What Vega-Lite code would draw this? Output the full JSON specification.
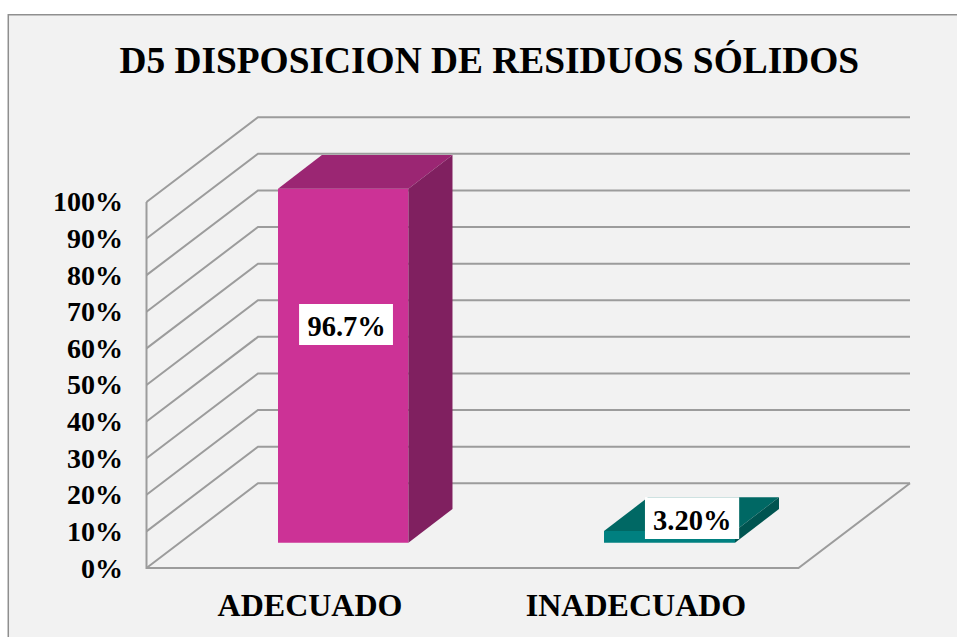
{"$schema":"https://vega.github.io/schema/vega-lite/v6.json","width":763.5,"height":451,"autosize":{"type":"none"},"padding":{"left":146.5,"top":117,"right":47,"bottom":69},"background":"#ffffff","view":{"stroke":null},"title":{"text":"D5 DISPOSICION DE RESIDUOS SÓLIDOS","font":"Liberation Serif","fontSize":37.4,"fontWeight":"bold","color":"#000000","anchor":"middle","dx":-39,"offset":-66,"zindex":1,"limit":900},"resolve":{"axis":{"x":"independent","y":"independent"}},"layer":[{"mark":{"type":"rect","fill":"#f2f2f2","stroke":"#8f8f8f","strokeWidth":1.5,"clip":false},"data":{"values":[{"panel":"chart area"}]},"encoding":{"x":{"datum":-21.2,"type":"quantitative","scale":{"domain":[0,117.1],"nice":false,"zero":false},"axis":{"values":[25,75],"labelExpr":"datum.value==25?'ADECUADO':'INADECUADO'","title":null,"grid":false,"domain":false,"ticks":false,"labelFont":"Liberation Serif","labelFontSize":32,"labelFontWeight":"bold","labelColor":"#000000","labelPadding":22,"labelAngle":0,"labelLimit":400,"zindex":1}},"x2":{"datum":124.8},"y":{"datum":151.1,"type":"quantitative","scale":{"domain":[0,123.2],"nice":false,"zero":false},"axis":{"values":[0,10,20,30,40,50,60,70,80,90,100],"labelExpr":"datum.value+'%'","title":null,"grid":false,"domain":false,"ticks":false,"labelFont":"Liberation Serif","labelFontSize":28,"labelFontWeight":"bold","labelColor":"#000000","labelPadding":24,"labelOffset":1,"zindex":1}},"y2":{"datum":-19.7}}},{"mark":{"type":"line","stroke":"#9c9c9c","strokeWidth":2,"clip":false},"data":{"values":[{"level":0,"u":0,"pct":0},{"level":0,"u":17.1,"pct":23.14},{"level":0,"u":117.1,"pct":23.14},{"level":10,"u":0,"pct":10},{"level":10,"u":17.1,"pct":33.14},{"level":10,"u":117.1,"pct":33.14},{"level":20,"u":0,"pct":20},{"level":20,"u":17.1,"pct":43.14},{"level":20,"u":117.1,"pct":43.14},{"level":30,"u":0,"pct":30},{"level":30,"u":17.1,"pct":53.14},{"level":30,"u":117.1,"pct":53.14},{"level":40,"u":0,"pct":40},{"level":40,"u":17.1,"pct":63.14},{"level":40,"u":117.1,"pct":63.14},{"level":50,"u":0,"pct":50},{"level":50,"u":17.1,"pct":73.14},{"level":50,"u":117.1,"pct":73.14},{"level":60,"u":0,"pct":60},{"level":60,"u":17.1,"pct":83.14},{"level":60,"u":117.1,"pct":83.14},{"level":70,"u":0,"pct":70},{"level":70,"u":17.1,"pct":93.14},{"level":70,"u":117.1,"pct":93.14},{"level":80,"u":0,"pct":80},{"level":80,"u":17.1,"pct":103.14},{"level":80,"u":117.1,"pct":103.14},{"level":90,"u":0,"pct":90},{"level":90,"u":17.1,"pct":113.14},{"level":90,"u":117.1,"pct":113.14},{"level":100,"u":0,"pct":100},{"level":100,"u":17.1,"pct":123.14},{"level":100,"u":117.1,"pct":123.14},{"level":-1,"u":0,"pct":100},{"level":-1,"u":0,"pct":0},{"level":-1,"u":100,"pct":0},{"level":-1,"u":117.1,"pct":23.14}]},"encoding":{"x":{"field":"u","type":"quantitative","axis":null},"y":{"field":"pct","type":"quantitative","axis":null},"detail":{"field":"level"},"order":{"value":0}}},{"mark":{"type":"rect","clip":false},"data":{"values":[{"category":"ADECUADO","u0":20.17,"u1":40.17,"base":6.9,"top":103.6},{"category":"INADECUADO","u0":70.17,"u1":90.26,"base":6.9,"top":10.1}]},"encoding":{"x":{"field":"u0","type":"quantitative","axis":null},"x2":{"field":"u1"},"y":{"field":"top","type":"quantitative","axis":null},"y2":{"field":"base"},"color":{"field":"category","type":"nominal","scale":{"domain":["ADECUADO","INADECUADO"],"range":["#cc3296","#008080"]},"legend":null}}},{"mark":{"type":"area","clip":false,"interpolate":"linear"},"data":{"values":[{"face":"top1","u":20.17,"a":103.6,"b":103.6},{"face":"top1","u":26.9,"a":112.8,"b":103.6},{"face":"top1","u":40.17,"a":112.8,"b":103.6},{"face":"top1","u":46.93,"a":112.8,"b":112.8},{"face":"side1","u":40.17,"a":103.6,"b":6.9},{"face":"side1","u":46.93,"a":112.8,"b":16.1},{"face":"top2","u":70.17,"a":10.1,"b":10.1},{"face":"top2","u":76.92,"a":19.3,"b":10.1},{"face":"top2","u":90.26,"a":19.3,"b":10.1},{"face":"top2","u":97.01,"a":19.3,"b":19.3},{"face":"side2","u":90.26,"a":10.1,"b":6.9},{"face":"side2","u":97.01,"a":19.3,"b":16.1}]},"encoding":{"x":{"field":"u","type":"quantitative","axis":null},"y":{"field":"a","type":"quantitative","axis":null},"y2":{"field":"b"},"fill":{"field":"face","type":"nominal","scale":{"domain":["top1","side1","top2","side2"],"range":["#9b2673","#802060","#006864","#005450"]},"legend":null}}},{"data":{"values":[{"label":"96.7%","u0":23.4,"u1":37.8,"lo":60.9,"hi":72.1,"mid":65.8,"c":30.7},{"label":"3.20%","u0":76.45,"u1":90.9,"lo":7.9,"hi":19.3,"mid":12.8,"c":83.7}]},"layer":[{"mark":{"type":"rect","fill":"#ffffff","clip":false},"encoding":{"x":{"field":"u0","type":"quantitative","axis":null},"x2":{"field":"u1"},"y":{"field":"hi","type":"quantitative","axis":null},"y2":{"field":"lo"}}},{"mark":{"type":"text","font":"Liberation Serif","fontSize":28.5,"fontWeight":"bold","color":"#000000","clip":false,"baseline":"middle"},"encoding":{"x":{"field":"c","type":"quantitative","axis":null},"y":{"field":"mid","type":"quantitative","axis":null},"text":{"field":"label"}}}]}]}
